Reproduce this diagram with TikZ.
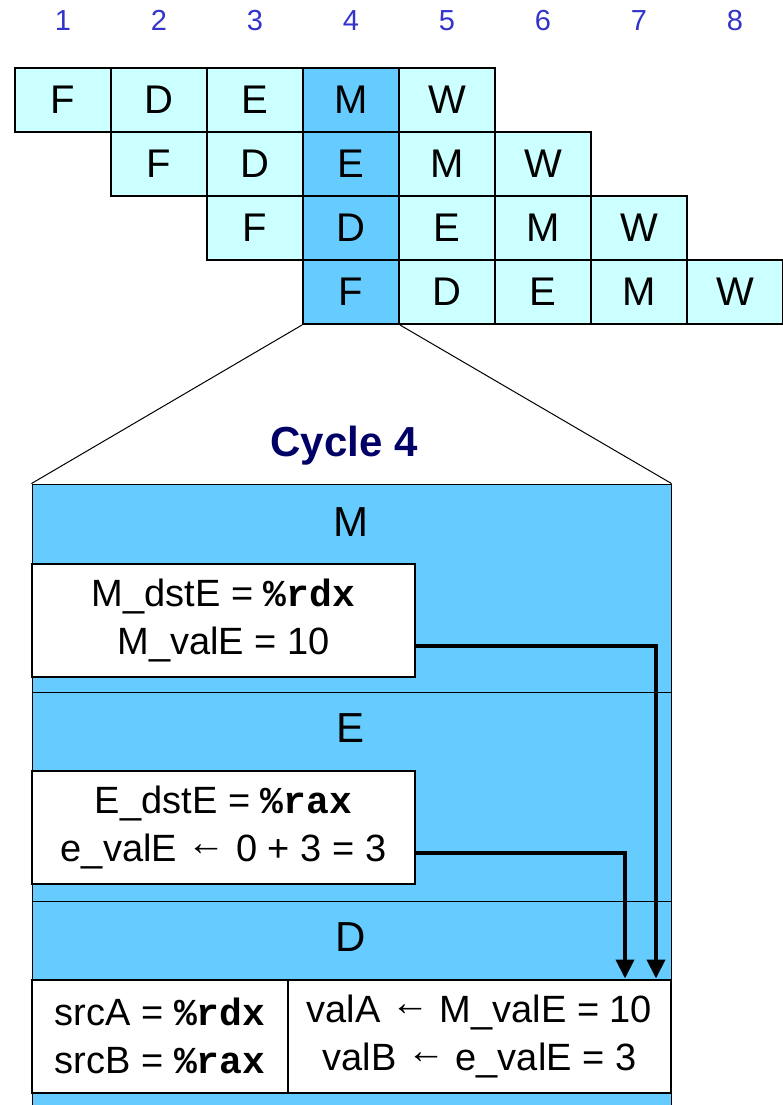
\documentclass[tikz,border=0pt]{standalone}
\usepackage{fontspec}
\setmainfont{Liberation Sans}
\setmonofont{Liberation Mono}
\usetikzlibrary{arrows.meta}
\usepackage{xcolor}
\definecolor{cellfill}{HTML}{CCFFFF}
\definecolor{stagefill}{HTML}{66CCFF}
\definecolor{cyclenum}{HTML}{3333CC}
\definecolor{cyclettl}{HTML}{000066}
\newcommand{\reg}[1]{\texttt{\bfseries\%#1}}
\newcommand{\larr}{\raisebox{0.16em}{←}}

\begin{document}
\begin{tikzpicture}[x=0.5pt, y=-0.5pt]
\useasboundingbox (0,0) rectangle (783,1105);

%% ── Cycle numbers ────────────────────────────────────────────────────────────
\begin{scope}[every node/.style={text=cyclenum, inner sep=0pt,
    font=\fontsize{14.5}{17}\selectfont}]
  \node (n1) at (63,20.5)  {1};
  \node (n2) at (159,20.5) {2};
  \node (n3) at (255,20.5) {3};
  \node (n4) at (351,20.5) {4};
  \node (n5) at (447,20.5) {5};
  \node (n6) at (543,20.5) {6};
  \node (n7) at (639,20.5) {7};
  \node (n8) at (735,20.5) {8};
\end{scope}

%% ── Pipeline grid ────────────────────────────────────────────────────────────
\begin{scope}[
  every node/.style={
    draw, fill=cellfill, line width=1pt,
    minimum width=48pt, minimum height=32pt, inner sep=0pt,
    font=\fontsize{20}{24}\selectfont
  },
  hot/.style={fill=stagefill}
]
  \node (i1f) at (63,100)  {F};
  \node (i1d) at (159,100) {D};
  \node (i1e) at (255,100) {E};
  \node[hot] (i1m) at (351,100) {M};
  \node (i1w) at (447,100) {W};

  \node (i2f) at (159,164) {F};
  \node (i2d) at (255,164) {D};
  \node[hot] (i2e) at (351,164) {E};
  \node (i2m) at (447,164) {M};
  \node (i2w) at (543,164) {W};

  \node (i3f) at (255,228) {F};
  \node[hot] (i3d) at (351,228) {D};
  \node (i3e) at (447,228) {E};
  \node (i3m) at (543,228) {M};
  \node (i3w) at (639,228) {W};

  \node[hot] (i4f) at (351,292) {F};
  \node (i4d) at (447,292) {D};
  \node (i4e) at (543,292) {E};
  \node (i4m) at (639,292) {M};
  \node (i4w) at (735,292) {W};
\end{scope}

%% ── Cycle 4 detail ───────────────────────────────────────────────────────────
\node[draw, fill=stagefill, line width=0.5pt, inner sep=0pt,
  minimum width=319.5pt, minimum height=314pt] (cyc) at (351.5,798) {};

\draw[line width=0.5pt] (i4f.south west) -- (cyc.north west);
\draw[line width=0.5pt] (i4f.south east) -- (cyc.north east);

\node[anchor=base, text=cyclettl, font=\bfseries\fontsize{21}{25}\selectfont]
  (ttl) at (344,456) {Cycle 4};

\draw[line width=0.5pt] (cyc.west |- 0,692) -- (cyc.east |- 0,692);
\draw[line width=0.5pt] (cyc.west |- 0,901) -- (cyc.east |- 0,901);

\begin{scope}[
  every node/.style={font=\fontsize{21}{25}\selectfont, inner sep=0pt},
  regbox/.style={
    draw, fill=white, line width=1pt, inner sep=0pt,
    minimum height=56.5pt, align=center,
    font=\fontsize{19}{24}\selectfont
  },
  fwd/.style={line width=2pt, -{Triangle[length=9.5pt,width=9pt]}}
]
  \node (lm) at (351,522) {M};
  \node (le) at (351,728) {E};
  \node (ld) at (351,937) {D};

  \node[regbox, minimum width=191.5pt] (mbox) at (223.5,620.5)
    {M\_dstE = \reg{rdx}\\M\_valE = 10};
  \node[regbox, minimum width=191.5pt] (ebox) at (223.5,827.5)
    {E\_dstE = \reg{rax}\\e\_valE \larr{} 0 + 3 = 3};
  \node[regbox, minimum width=128pt] (srcbox) at (160,1036)
    {srcA = \reg{rdx}\\srcB = \reg{rax}};
  \node[regbox, minimum width=191.5pt] (valbox) at (479.5,1036)
    {valA \larr{} M\_valE = 10\\valB \larr{} e\_valE = 3};

  \draw[fwd] ([yshift=-12.5pt]mbox.east) -| ([xshift=-8pt]valbox.north east);
  \draw[fwd] ([yshift=-12.75pt]ebox.east) -| ([xshift=-23.5pt]valbox.north east);
\end{scope}

\end{tikzpicture}
\end{document}
